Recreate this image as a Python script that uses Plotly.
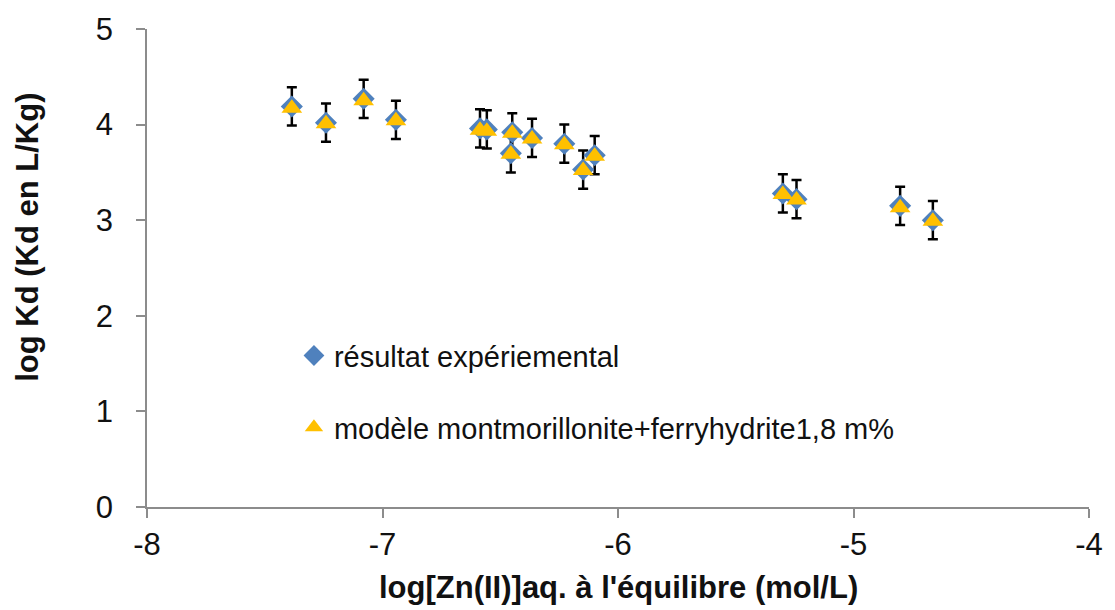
import plotly.graph_objects as go

# log[Zn(II)] at equilibrium (mol/L) and log Kd (L/kg)
log_zn = [-7.385, -7.24, -7.08, -6.943, -6.586, -6.557, -6.449, -6.455,
          -6.365, -6.228, -6.148, -6.099, -5.30, -5.242, -4.802, -4.663]
kd_exp = [4.19, 4.02, 4.27, 4.05, 3.96, 3.95, 3.92, 3.70,
          3.86, 3.80, 3.53, 3.68, 3.28, 3.22, 3.15, 3.00]
kd_err = [0.2] * len(kd_exp)
kd_model = [4.17, 4.01, 4.25, 4.04, 3.94, 3.93, 3.91, 3.69,
            3.85, 3.79, 3.52, 3.67, 3.27, 3.21, 3.13, 2.99]

x_ticks = [-8, -7, -6, -5, -4]
y_ticks = [0, 1, 2, 3, 4, 5]

FONT = "Liberation Sans, Arial, sans-serif"
AXIS_GREY = "#8c8c8c"

fig = go.Figure()
fig.add_trace(go.Scatter(
    x=log_zn, y=kd_exp, mode="markers",
    name="résultat expériemental",
    legendgroup="exp",
    marker=dict(symbol="diamond", size=17, color="#4F81BD"),
    error_y=dict(type="data", array=kd_err, visible=True,
                 color="black", thickness=2.5, width=5),
))
fig.add_trace(go.Scatter(
    x=log_zn, y=kd_model, mode="markers",
    name="modèle montmorillonite+ferryhydrite1,8 m%",
    legendgroup="model",
    marker=dict(symbol="triangle-up", size=18, color="#FFC000"),
))

axis_common = dict(
    showgrid=False, zeroline=False, showline=True,
    linecolor=AXIS_GREY, linewidth=1.5,
    ticks="outside", ticklen=9, tickwidth=1.5, tickcolor=AXIS_GREY,
    tickfont=dict(family=FONT, size=31, color="#111111"),
)

fig.update_layout(
    width=1115, height=610,
    margin=dict(l=147, r=17, t=23, b=103),
    paper_bgcolor="white", plot_bgcolor="white",
    showlegend=True,
    legend=dict(
        x=0.156, y=0.37, xanchor="left", yanchor="top",
        font=dict(family=FONT, size=29, color="#111111"),
        bgcolor="rgba(0,0,0,0)", traceorder="grouped",
        tracegroupgap=31, itemwidth=30,
    ),
    xaxis=dict(range=[-8, -4], tickvals=x_ticks, ticktext=[str(v) for v in x_ticks],
               ticklabelstandoff=0, **axis_common),
    yaxis=dict(range=[0, 5], tickvals=y_ticks, ticktext=[str(v) for v in y_ticks],
               ticklabelstandoff=17, **axis_common),
    annotations=[
        dict(text="<b>log[Zn(II)]aq. à l'équilibre (mol/L)</b>",
             xref="paper", yref="paper", x=0.5, y=-0.169,
             xanchor="center", yanchor="middle", showarrow=False,
             font=dict(family=FONT, size=31, color="#111111")),
        dict(text="<b>log Kd (Kd en L/Kg)</b>",
             xref="paper", yref="paper", x=-0.127, y=0.564,
             xanchor="center", yanchor="middle", textangle=-90, showarrow=False,
             font=dict(family=FONT, size=31, color="#111111")),
    ],
)

fig.write_html("out.html")
